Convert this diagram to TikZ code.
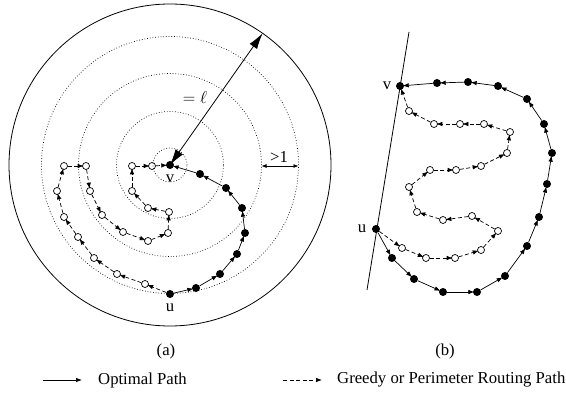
\documentclass[tikz,border=0pt]{standalone}
\usepackage{fontspec}
\setmainfont{Liberation Serif}
\usetikzlibrary{arrows.meta, positioning}

\begin{document}
\begin{tikzpicture}[
        x=1pt, y=-1pt,
        every node/.style={font=\fontsize{16.7}{20}\selectfont},
        optnode/.style={circle, fill=black, inner sep=0pt, minimum size=8pt},
        grnode/.style={circle, draw=black, line width=0.7pt, inner sep=0pt, minimum size=7pt},
        optedge/.style={-{Latex[length=6pt,width=4.5pt]}, line width=0.7pt, shorten >=-1.5pt},
        gredge/.style={-{Latex[length=6pt,width=4.5pt]}, line width=0.7pt, dash pattern=on 4pt off 2.5pt, shorten >=-1.5pt},
        ring/.style={dotted, line width=0.7pt},
        bigtip/.style={{Latex[length=16pt,width=9pt]}-{Latex[length=16pt,width=9pt]}, line width=0.8pt},
        smalltip/.style={{Latex[length=5pt,width=4pt]}-{Latex[length=5pt,width=4pt]}, line width=0.7pt}
    ]
        \useasboundingbox (0,0) rectangle (566,393);

        % (a) circles round v
        \node[optnode] (av) at (170,165) {};
        \node[optnode] (au) at (170,294) {};
        \draw[line width=0.8pt] (av.center) circle[radius=161pt];
        \foreach \r in {17,53.5,91.5,128.5}
            \draw[ring] (av.center) circle[radius=\r pt];

        \node[below=2pt of av] (avlab) {v};
        \node[below=2pt of au] (aulab) {u};

        % (a) optimal path
        \foreach \n/\x/\y in {1/196/288, 2/220/274, 3/237/254, 4/245/233, 5/242/208, 6/226/188, 7/200/174}
            \node[optnode] (ao\n) at (\x,\y) {};
        \foreach \n [remember=\n as \last (initially au)] in {ao1,ao2,ao3,ao4,ao5,ao6,ao7,av}
            \draw[optedge] (\last) -- (\n);

        % (a) greedy path
        \foreach \n/\x/\y in {1/145/284, 2/117/274, 3/94/258, 4/78/237, 5/64/217, 6/57/191, 7/64/166, 8/86/166, 9/90/191,
                              10/102/215, 11/123/232, 12/148/241, 13/168/233, 14/169/212, 15/148/208, 16/132/191, 17/132/166, 18/152/166}
            \node[grnode] (ag\n) at (\x,\y) {};
        \foreach \n [remember=\n as \last (initially au)] in {ag1,ag2,ag3,ag4,ag5,ag6,ag7,ag8,ag9,ag10,ag11,ag12,ag13,ag14,ag15,ag16,ag17,ag18,av}
            \draw[gredge] (\last) -- (\n);

        % (a) distances
        \coordinate (rim) at (262.6,33.3);
        \draw[bigtip] (av.center) -- (rim);
        \node (ell) at (195,98) {$=\ell$};
        \coordinate (gapin) at (261.5,166);
        \coordinate (gapout) at (298.5,166);
        \draw[smalltip] (gapin) -- (gapout);
        \node (gaplab) at (279,157) {>1};

        % (b) boundary line
        \coordinate (ltop) at (409,32);
        \coordinate (lbot) at (367,290);
        \draw[line width=0.8pt] (ltop) -- (lbot);
        \node[optnode] (bv) at (400,86) {};
        \node[optnode] (bu) at (376,229) {};
        \node[left=1pt of bv] (bvlab) {v};
        \node[left=2pt of bu] (bulab) {u};

        % (b) optimal path
        \foreach \n/\x/\y in {1/392/258, 2/414/279, 3/443/292, 4/477/292, 5/505/276, 6/527/246, 7/539/217,
                              8/547/184, 9/552/153, 10/544/124, 11/527/99, 12/498/86, 13/468/82, 14/437/83}
            \node[optnode] (bo\n) at (\x,\y) {};
        \foreach \n [remember=\n as \last (initially bu)] in {bo1,bo2,bo3,bo4,bo5,bo6,bo7,bo8,bo9,bo10,bo11,bo12,bo13,bo14,bv}
            \draw[optedge] (\last) -- (\n);

        % (b) greedy path
        \foreach \n/\x/\y in {1/402/248, 2/426/258, 3/455/258, 4/481/250, 5/498/231, 6/472/216, 7/443/220, 8/417/212, 9/409/187,
                              10/430/170, 11/456/170, 12/481/166, 13/507/153, 14/510/132, 15/484/124, 16/460/124, 17/434/124, 18/409/111}
            \node[grnode] (bg\n) at (\x,\y) {};
        \foreach \n [remember=\n as \last (initially bu)] in {bg1,bg2,bg3,bg4,bg5,bg6,bg7,bg8,bg9,bg10,bg11,bg12,bg13,bg14,bg15,bg16,bg17,bg18,bv}
            \draw[gredge] (\last) -- (\n);

        % captions
        \node (capa) at (166,351) {(a)};
        \node (capb) at (445,351) {(b)};

        % legend
        \coordinate (lgoa) at (43,380);
        \coordinate (lgob) at (82,380);
        \draw[optedge, shorten >=0pt] (lgoa) -- (lgob);
        \node[anchor=west, inner sep=0pt] (lgotxt) at (98,380) {Optimal Path};
        \coordinate (lgga) at (283,380);
        \coordinate (lggb) at (322,380);
        \draw[gredge, shorten >=0pt] (lgga) -- (lggb);
        \node[anchor=west, inner sep=0pt] (lggtxt) at (337,380) {Greedy or Perimeter Routing Path};
    \end{tikzpicture}
\end{document}
